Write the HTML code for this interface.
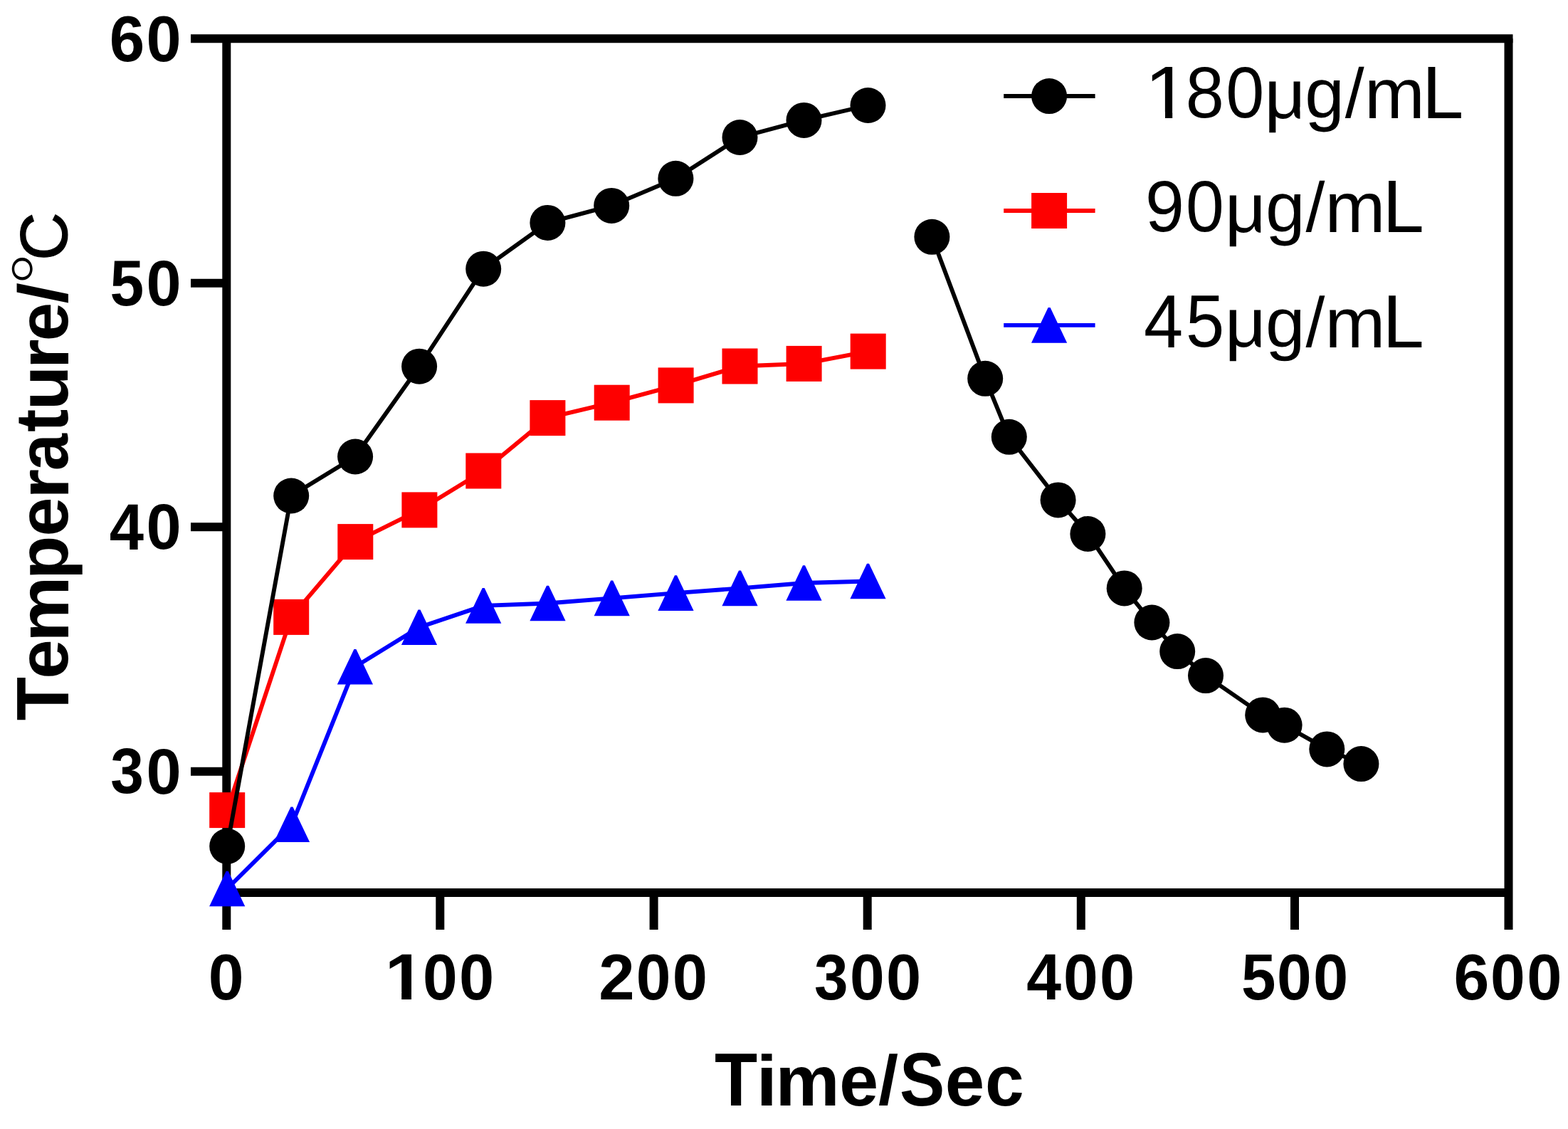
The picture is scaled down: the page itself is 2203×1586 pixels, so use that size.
<!DOCTYPE html>
<html lang="en"><head><meta charset="utf-8"><title>Temperature vs Time</title>
<style>html,body{margin:0;padding:0;background:#fff;}svg{display:block;}text{font-family:"Liberation Sans","Noto Sans CJK SC",sans-serif;fill:#000;font-kerning:none;font-variant-ligatures:none;text-rendering:geometricPrecision;white-space:pre;}.dg{font-family:"Noto Serif CJK SC","NanumGothic","Liberation Sans",sans-serif;}</style>
</head><body>
<svg xmlns="http://www.w3.org/2000/svg" width="2203" height="1586" viewBox="0 0 2203 1586">
<rect width="2203" height="1586" fill="#fff"/>
<g stroke="#000" stroke-width="12" fill="none" stroke-linecap="butt">
<line x1="268" y1="54.3" x2="2125.5" y2="54.3"/>
<line x1="318.3" y1="1253.9" x2="2119.5" y2="1253.9"/>
<line x1="318.3" y1="54.3" x2="318.3" y2="1306"/>
<line x1="2119.5" y1="54.3" x2="2119.5" y2="1306"/>
<line x1="268" y1="397.7" x2="318.3" y2="397.7"/>
<line x1="268" y1="740.2" x2="318.3" y2="740.2"/>
<line x1="268" y1="1083.8" x2="318.3" y2="1083.8"/>
<line x1="618.3" y1="1253.9" x2="618.3" y2="1306"/>
<line x1="918.6" y1="1253.9" x2="918.6" y2="1306"/>
<line x1="1218.7" y1="1253.9" x2="1218.7" y2="1306"/>
<line x1="1518.8" y1="1253.9" x2="1518.8" y2="1306"/>
<line x1="1819" y1="1253.9" x2="1819" y2="1306"/>
</g>
<g fill="#fe0000">
<polyline points="319.2,1138.1 409.2,866.9 499.3,761.1 589.4,716.4 679.3,661.5 769.4,587.1 859.7,565.7 949.6,541.4 1039.5,514.5 1129.6,510.9 1219.7,493.6" fill="none" stroke="#fe0000" stroke-width="5.9" stroke-linejoin="round"/>
<rect x="294.2" y="1113.1" width="50" height="50"/>
<rect x="384.2" y="841.9" width="50" height="50"/>
<rect x="474.3" y="736.1" width="50" height="50"/>
<rect x="564.4" y="691.4" width="50" height="50"/>
<rect x="654.3" y="636.5" width="50" height="50"/>
<rect x="744.4" y="562.1" width="50" height="50"/>
<rect x="834.7" y="540.7" width="50" height="50"/>
<rect x="924.6" y="516.4" width="50" height="50"/>
<rect x="1014.5" y="489.5" width="50" height="50"/>
<rect x="1104.6" y="485.9" width="50" height="50"/>
<rect x="1194.7" y="468.6" width="50" height="50"/>
</g>
<g fill="#000">
<polyline points="319.2,1188.8 409.2,696.5 499.1,641.5 589.1,514.7 679.2,377.7 769.4,312.9 859.2,288.9 949.4,250.8 1039.5,193 1129.5,168.9 1219.5,148" fill="none" stroke="#000" stroke-width="5.9" stroke-linejoin="round"/>
<polyline points="1309.4,332.8 1384.2,531.8 1417.8,613.8 1486.6,702.4 1528.4,750 1579.7,826.4 1618.4,874.5 1654.2,915.1 1694,949.1 1774.2,1004.4 1804.6,1018.7 1864.3,1052.4 1912.4,1073.1" fill="none" stroke="#000" stroke-width="5.9" stroke-linejoin="round"/>
<circle cx="319.2" cy="1188.8" r="25"/>
<circle cx="409.2" cy="696.5" r="25"/>
<circle cx="499.1" cy="641.5" r="25"/>
<circle cx="589.1" cy="514.7" r="25"/>
<circle cx="679.2" cy="377.7" r="25"/>
<circle cx="769.4" cy="312.9" r="25"/>
<circle cx="859.2" cy="288.9" r="25"/>
<circle cx="949.4" cy="250.8" r="25"/>
<circle cx="1039.5" cy="193" r="25"/>
<circle cx="1129.5" cy="168.9" r="25"/>
<circle cx="1219.5" cy="148" r="25"/>
<circle cx="1309.4" cy="332.8" r="25"/>
<circle cx="1384.2" cy="531.8" r="25"/>
<circle cx="1417.8" cy="613.8" r="25"/>
<circle cx="1486.6" cy="702.4" r="25"/>
<circle cx="1528.4" cy="750" r="25"/>
<circle cx="1579.7" cy="826.4" r="25"/>
<circle cx="1618.4" cy="874.5" r="25"/>
<circle cx="1654.2" cy="915.1" r="25"/>
<circle cx="1694" cy="949.1" r="25"/>
<circle cx="1774.2" cy="1004.4" r="25"/>
<circle cx="1804.6" cy="1018.7" r="25"/>
<circle cx="1864.3" cy="1052.4" r="25"/>
<circle cx="1912.4" cy="1073.1" r="25"/>
</g>
<g fill="#0000fe">
<polyline points="319.2,1248.5 410,1158.3 498.9,936.7 589,881.2 679.2,850.9 769.5,847.5 859.7,840.4 949.5,833.1 1039.5,826.4 1129.5,819 1219.5,816.5" fill="none" stroke="#0000fe" stroke-width="5.9" stroke-linejoin="round"/>
<polygon points="317.7,1223.7 320.7,1223.7 344.3,1273.3 294.1,1273.3"/>
<polygon points="408.5,1133.5 411.5,1133.5 435.1,1183.1 384.9,1183.1"/>
<polygon points="497.4,911.9 500.4,911.9 524,961.5 473.8,961.5"/>
<polygon points="587.5,856.4 590.5,856.4 614.1,906 563.9,906"/>
<polygon points="677.7,826.1 680.7,826.1 704.3,875.7 654.1,875.7"/>
<polygon points="768,822.7 771,822.7 794.6,872.3 744.4,872.3"/>
<polygon points="858.2,815.6 861.2,815.6 884.8,865.2 834.6,865.2"/>
<polygon points="948,808.3 951,808.3 974.6,857.9 924.4,857.9"/>
<polygon points="1038,801.6 1041,801.6 1064.6,851.2 1014.4,851.2"/>
<polygon points="1128,794.2 1131,794.2 1154.6,843.8 1104.4,843.8"/>
<polygon points="1218,791.7 1221,791.7 1244.6,841.3 1194.4,841.3"/>
</g>
<g>
<line x1="1410.2" y1="135.05" x2="1538.6" y2="135.05" stroke="#000" stroke-width="5.9"/>
<circle cx="1474.1" cy="135.05" r="25" fill="#000"/>
<line x1="1410.2" y1="296" x2="1538.6" y2="296" stroke="#fe0000" stroke-width="5.9"/>
<g fill="#fe0000"><rect x="1449.1" y="271" width="50" height="50"/></g>
<line x1="1410.2" y1="456.85" x2="1538.6" y2="456.85" stroke="#0000fe" stroke-width="5.9"/>
<g fill="#0000fe"><polygon points="1472.6,432.05 1475.6,432.05 1499.2,481.65 1449,481.65"/></g>
</g>
<clipPath id="k1"><path clip-rule="evenodd" d="M-3000 -3000H6000V6000H-3000ZM1614.68 157.07H1636.97V168.1H1614.68ZM1647.2 157.07H1668.58V168.1H1647.2ZM1826.5 150.19H1835.49V168.45H1826.5Z"/></clipPath>
<text clip-path="url(#k1)" font-weight="normal"><tspan x="1607.87" y="166.1" font-size="104.8" textLength="64.368" lengthAdjust="spacingAndGlyphs">1</tspan><tspan x="1665.68" y="165.11" font-size="101.84" textLength="54.046" lengthAdjust="spacingAndGlyphs">8</tspan><tspan x="1722.31" y="165.11" font-size="101.84" textLength="53.983" lengthAdjust="spacingAndGlyphs">0</tspan><tspan x="1776.16" y="165.52" font-size="97.71" textLength="59.343" lengthAdjust="spacingAndGlyphs">µ</tspan><tspan x="1833.31" y="165.11" font-size="98.23" textLength="55.528" lengthAdjust="spacingAndGlyphs">g</tspan><tspan x="1889.8" y="165.14" font-size="98.18" textLength="26.9" lengthAdjust="spacingAndGlyphs">/</tspan><tspan x="1916.93" y="166.1" font-size="99.8" textLength="84.884" lengthAdjust="spacingAndGlyphs">m</tspan><tspan x="1997.9" y="166.1" font-size="104.8" textLength="58.274" lengthAdjust="spacingAndGlyphs">L</tspan></text>
<clipPath id="k2"><path clip-rule="evenodd" d="M-3000 -3000H6000V6000H-3000ZM1771.2 310.19H1780.19V328.45H1771.2Z"/></clipPath>
<text clip-path="url(#k2)" font-weight="normal"><tspan x="1609.07" y="325.31" font-size="101.84" textLength="54.903" lengthAdjust="spacingAndGlyphs">9</tspan><tspan x="1666.12" y="325.31" font-size="101.84" textLength="53.751" lengthAdjust="spacingAndGlyphs">0</tspan><tspan x="1720.86" y="325.52" font-size="97.71" textLength="59.343" lengthAdjust="spacingAndGlyphs">µ</tspan><tspan x="1778.01" y="325.11" font-size="98.23" textLength="55.528" lengthAdjust="spacingAndGlyphs">g</tspan><tspan x="1834.5" y="325.34" font-size="98.18" textLength="26.9" lengthAdjust="spacingAndGlyphs">/</tspan><tspan x="1861.63" y="326.3" font-size="100.17" textLength="84.884" lengthAdjust="spacingAndGlyphs">m</tspan><tspan x="1942.6" y="326.3" font-size="104.8" textLength="58.274" lengthAdjust="spacingAndGlyphs">L</tspan></text>
<clipPath id="k3"><path clip-rule="evenodd" d="M-3000 -3000H6000V6000H-3000ZM1771.2 471.78H1780.19V490.01H1771.2Z"/></clipPath>
<text clip-path="url(#k3)" font-weight="normal"><tspan x="1607.02" y="487.7" font-size="105.67" textLength="55.184" lengthAdjust="spacingAndGlyphs">4</tspan><tspan x="1666" y="486.68" font-size="104.19" textLength="54.193" lengthAdjust="spacingAndGlyphs">5</tspan><tspan x="1720.86" y="487.08" font-size="97.44" textLength="59.343" lengthAdjust="spacingAndGlyphs">µ</tspan><tspan x="1778.01" y="486.67" font-size="97.97" textLength="55.528" lengthAdjust="spacingAndGlyphs">g</tspan><tspan x="1834.5" y="486.73" font-size="99" textLength="26.9" lengthAdjust="spacingAndGlyphs">/</tspan><tspan x="1861.63" y="487.7" font-size="99.61" textLength="84.884" lengthAdjust="spacingAndGlyphs">m</tspan><tspan x="1942.6" y="487.7" font-size="105.67" textLength="58.274" lengthAdjust="spacingAndGlyphs">L</tspan></text>
<text font-weight="bold"><tspan x="153.64" y="86.31" font-size="90.96" textLength="49.472" lengthAdjust="spacingAndGlyphs">6</tspan><tspan x="205.61" y="86.31" font-size="90.96" textLength="49.115" lengthAdjust="spacingAndGlyphs">0</tspan></text>
<text font-weight="bold"><tspan x="154.56" y="428.61" font-size="91.01" textLength="47.728" lengthAdjust="spacingAndGlyphs">5</tspan><tspan x="205.61" y="428.62" font-size="90.25" textLength="49.115" lengthAdjust="spacingAndGlyphs">0</tspan></text>
<text font-weight="bold"><tspan x="153.69" y="771.5" font-size="92.01" textLength="48.28" lengthAdjust="spacingAndGlyphs">4</tspan><tspan x="205.61" y="771.32" font-size="90.39" textLength="49.115" lengthAdjust="spacingAndGlyphs">0</tspan></text>
<text font-weight="bold"><tspan x="155.27" y="1114.49" font-size="90.21" textLength="46.656" lengthAdjust="spacingAndGlyphs">3</tspan><tspan x="205.61" y="1114.62" font-size="90.39" textLength="49.115" lengthAdjust="spacingAndGlyphs">0</tspan></text>
<text font-weight="bold"><tspan x="292.76" y="1404.01" font-size="90.82" textLength="49.817" lengthAdjust="spacingAndGlyphs">0</tspan></text>
<clipPath id="k4"><path clip-rule="evenodd" d="M-3000 -3000H6000V6000H-3000ZM545.06 1393.63H564.2V1406.2H545.06ZM578 1393.63H595.86V1406.2H578Z"/></clipPath>
<text clip-path="url(#k4)" font-weight="bold"><tspan x="540.72" y="1404.2" font-size="91.86" textLength="55.938" lengthAdjust="spacingAndGlyphs">1</tspan><tspan x="593.88" y="1404.01" font-size="90.82" textLength="48.764" lengthAdjust="spacingAndGlyphs">0</tspan><tspan x="644.95" y="1404.01" font-size="90.82" textLength="49.232" lengthAdjust="spacingAndGlyphs">0</tspan></text>
<text font-weight="bold"><tspan x="841.36" y="1404.2" font-size="91.09" textLength="50.366" lengthAdjust="spacingAndGlyphs">2</tspan><tspan x="893.73" y="1404.01" font-size="90.82" textLength="48.764" lengthAdjust="spacingAndGlyphs">0</tspan><tspan x="944.8" y="1404.01" font-size="90.82" textLength="49.232" lengthAdjust="spacingAndGlyphs">0</tspan></text>
<text font-weight="bold"><tspan x="1143.94" y="1403.88" font-size="90.63" textLength="47.552" lengthAdjust="spacingAndGlyphs">3</tspan><tspan x="1193.93" y="1404.01" font-size="90.82" textLength="48.764" lengthAdjust="spacingAndGlyphs">0</tspan><tspan x="1245" y="1404.01" font-size="90.82" textLength="49.232" lengthAdjust="spacingAndGlyphs">0</tspan></text>
<text font-weight="bold"><tspan x="1442.17" y="1404.2" font-size="91.86" textLength="48.799" lengthAdjust="spacingAndGlyphs">4</tspan><tspan x="1493.93" y="1404.01" font-size="90.82" textLength="48.764" lengthAdjust="spacingAndGlyphs">0</tspan><tspan x="1545" y="1404.01" font-size="90.82" textLength="49.232" lengthAdjust="spacingAndGlyphs">0</tspan></text>
<text font-weight="bold"><tspan x="1744.02" y="1404.01" font-size="91.58" textLength="48.511" lengthAdjust="spacingAndGlyphs">5</tspan><tspan x="1793.93" y="1404.01" font-size="90.82" textLength="48.764" lengthAdjust="spacingAndGlyphs">0</tspan><tspan x="1845" y="1404.01" font-size="90.82" textLength="49.232" lengthAdjust="spacingAndGlyphs">0</tspan></text>
<text font-weight="bold"><tspan x="2042.62" y="1404.01" font-size="90.82" textLength="49.817" lengthAdjust="spacingAndGlyphs">6</tspan><tspan x="2094.08" y="1404.01" font-size="90.82" textLength="48.764" lengthAdjust="spacingAndGlyphs">0</tspan><tspan x="2145.15" y="1404.01" font-size="90.82" textLength="49.232" lengthAdjust="spacingAndGlyphs">0</tspan></text>
<text font-weight="bold"><tspan x="1003.89" y="1553.4" font-size="105.82" textLength="60.164" lengthAdjust="spacingAndGlyphs">T</tspan><tspan x="1062.47" y="1553.4" font-size="100.47" textLength="29.564" lengthAdjust="spacingAndGlyphs">i</tspan><tspan x="1089.42" y="1553.4" font-size="100.45" textLength="90.057" lengthAdjust="spacingAndGlyphs">m</tspan><tspan x="1179.35" y="1552.91" font-size="101.3" textLength="54.819" lengthAdjust="spacingAndGlyphs">e</tspan><tspan x="1233.91" y="1551.44" font-size="97.77" textLength="28.181" lengthAdjust="spacingAndGlyphs">/</tspan><tspan x="1264.07" y="1553.16" font-size="106.35" textLength="63.235" lengthAdjust="spacingAndGlyphs">S</tspan><tspan x="1327.81" y="1552.91" font-size="101.3" textLength="55.395" lengthAdjust="spacingAndGlyphs">e</tspan><tspan x="1384.06" y="1552.91" font-size="101.3" textLength="54.727" lengthAdjust="spacingAndGlyphs">c</tspan></text>
<text transform="translate(0 1012) rotate(-90)" font-weight="bold"><tspan x="-0.13" y="95.9" font-size="104.51" textLength="61.305" lengthAdjust="spacingAndGlyphs">T</tspan><tspan x="58.32" y="95.22" font-size="100.21" textLength="55.28" lengthAdjust="spacingAndGlyphs">e</tspan><tspan x="110.27" y="95.9" font-size="100.45" textLength="92.16" lengthAdjust="spacingAndGlyphs">m</tspan><tspan x="198.08" y="95.38" font-size="99.86" textLength="61.338" lengthAdjust="spacingAndGlyphs">p</tspan><tspan x="258.55" y="95.22" font-size="100.21" textLength="54.819" lengthAdjust="spacingAndGlyphs">e</tspan><tspan x="311.08" y="95.9" font-size="100.45" textLength="42.06" lengthAdjust="spacingAndGlyphs">r</tspan><tspan x="350.85" y="95.22" font-size="100.21" textLength="52.152" lengthAdjust="spacingAndGlyphs">a</tspan><tspan x="404.92" y="95.28" font-size="105.12" textLength="32.158" lengthAdjust="spacingAndGlyphs">t</tspan><tspan x="435.62" y="95.23" font-size="99.61" textLength="62.866" lengthAdjust="spacingAndGlyphs">u</tspan><tspan x="493.48" y="95.9" font-size="100.45" textLength="42.06" lengthAdjust="spacingAndGlyphs">r</tspan><tspan x="532.87" y="95.22" font-size="100.21" textLength="54.474" lengthAdjust="spacingAndGlyphs">e</tspan><tspan x="585.56" y="94.15" font-size="97.23" textLength="29.472" lengthAdjust="spacingAndGlyphs">/</tspan><tspan class="dg" x="613.75" y="96.59" font-size="107.78" font-weight="normal" textLength="40.772" lengthAdjust="spacingAndGlyphs">°</tspan><tspan x="645.94" y="93.99" font-size="93.64" font-weight="normal" stroke="#000" stroke-width="1.2" textLength="67.735" lengthAdjust="spacingAndGlyphs">C</tspan></text>
</svg>
</body></html>
